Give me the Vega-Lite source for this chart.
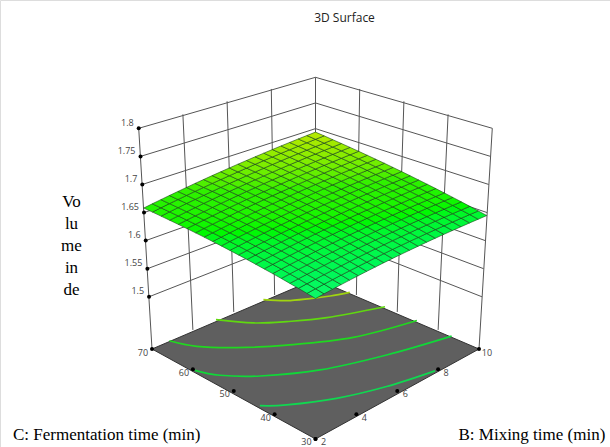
{"$schema":"https://vega.github.io/schema/vega-lite/v6.json","width":610,"height":447,"autosize":"none","padding":0,"background":"white","title":{"text":"3D Surface","dx":39.5,"dy":28.5,"font":"Open Sans","fontSize":12,"fontWeight":"normal","color":"#222"},
"datasets":{
"frame":[
{"id":"z1.5","o":0,"B":2,"C":70,"V":1.5},{"id":"z1.5","o":1,"B":10,"C":70,"V":1.5},{"id":"z1.5","o":2,"B":10,"C":30,"V":1.5},
{"id":"z1.55","o":0,"B":2,"C":70,"V":1.55},{"id":"z1.55","o":1,"B":10,"C":70,"V":1.55},{"id":"z1.55","o":2,"B":10,"C":30,"V":1.55},
{"id":"z1.6","o":0,"B":2,"C":70,"V":1.6},{"id":"z1.6","o":1,"B":10,"C":70,"V":1.6},{"id":"z1.6","o":2,"B":10,"C":30,"V":1.6},
{"id":"z1.65","o":0,"B":2,"C":70,"V":1.65},{"id":"z1.65","o":1,"B":10,"C":70,"V":1.65},{"id":"z1.65","o":2,"B":10,"C":30,"V":1.65},
{"id":"z1.7","o":0,"B":2,"C":70,"V":1.7},{"id":"z1.7","o":1,"B":10,"C":70,"V":1.7},{"id":"z1.7","o":2,"B":10,"C":30,"V":1.7},
{"id":"z1.75","o":0,"B":2,"C":70,"V":1.75},{"id":"z1.75","o":1,"B":10,"C":70,"V":1.75},{"id":"z1.75","o":2,"B":10,"C":30,"V":1.75},
{"id":"z1.8","o":0,"B":2,"C":70,"V":1.8},{"id":"z1.8","o":1,"B":10,"C":70,"V":1.8},{"id":"z1.8","o":2,"B":10,"C":30,"V":1.8},
{"id":"b2","o":0,"B":2,"C":70,"V":1.407},{"id":"b2","o":1,"B":2,"C":70,"V":1.8},
{"id":"b4","o":0,"B":4,"C":70,"V":1.407},{"id":"b4","o":1,"B":4,"C":70,"V":1.8},
{"id":"b6","o":0,"B":6,"C":70,"V":1.407},{"id":"b6","o":1,"B":6,"C":70,"V":1.8},
{"id":"b8","o":0,"B":8,"C":70,"V":1.407},{"id":"b8","o":1,"B":8,"C":70,"V":1.8},
{"id":"b10","o":0,"B":10,"C":70,"V":1.407},{"id":"b10","o":1,"B":10,"C":70,"V":1.8},
{"id":"c60","o":0,"B":10,"C":60,"V":1.407},{"id":"c60","o":1,"B":10,"C":60,"V":1.8},
{"id":"c50","o":0,"B":10,"C":50,"V":1.407},{"id":"c50","o":1,"B":10,"C":50,"V":1.8},
{"id":"c40","o":0,"B":10,"C":40,"V":1.407},{"id":"c40","o":1,"B":10,"C":40,"V":1.8},
{"id":"c30","o":0,"B":10,"C":30,"V":1.407},{"id":"c30","o":1,"B":10,"C":30,"V":1.8}
],
"floor":[{"o":0,"B":2,"C":30,"V":1.407},{"o":1,"B":10,"C":30,"V":1.407},{"o":2,"B":10,"C":70,"V":1.407},{"o":3,"B":2,"C":70,"V":1.407},{"o":4,"B":2,"C":30,"V":1.407}],
"contours":[
{"level":1.68,"o":0,"B":7.45,"C":70},{"level":1.68,"o":1,"B":7.96,"C":66.8},{"level":1.68,"o":2,"B":8.65,"C":64.6},{"level":1.68,"o":3,"B":9.3,"C":62.9},{"level":1.68,"o":4,"B":10,"C":61.6},
{"level":1.67,"o":0,"B":5.13,"C":70},{"level":1.67,"o":1,"B":5.86,"C":64.5},{"level":1.67,"o":2,"B":6.75,"C":60.8},{"level":1.67,"o":3,"B":7.95,"C":57},{"level":1.67,"o":4,"B":10,"C":53},
{"level":1.66,"o":0,"B":2.85,"C":70},{"level":1.66,"o":1,"B":3.23,"C":65.2},{"level":1.66,"o":2,"B":4.14,"C":60},{"level":1.66,"o":3,"B":5.5,"C":54.5},{"level":1.66,"o":4,"B":7.53,"C":48.4},{"level":1.66,"o":5,"B":10,"C":45.2},
{"level":1.65,"o":0,"B":2,"C":59.5},{"level":1.65,"o":1,"B":2.38,"C":55.3},{"level":1.65,"o":2,"B":3.33,"C":50.2},{"level":1.65,"o":3,"B":5.08,"C":44.3},{"level":1.65,"o":4,"B":7.44,"C":39.8},{"level":1.65,"o":5,"B":10,"C":36.7},
{"level":1.64,"o":0,"B":2,"C":43.6},{"level":1.64,"o":1,"B":2.68,"C":40.5},{"level":1.64,"o":2,"B":4.19,"C":35.8},{"level":1.64,"o":3,"B":5.94,"C":32.3},{"level":1.64,"o":4,"B":7.85,"C":30}
],
"ticks":[
{"axis":"V","label":"1.5","B":2,"C":70,"V":1.5},{"axis":"V","label":"1.55","B":2,"C":70,"V":1.55},{"axis":"V","label":"1.6","B":2,"C":70,"V":1.6},{"axis":"V","label":"1.65","B":2,"C":70,"V":1.65},{"axis":"V","label":"1.7","B":2,"C":70,"V":1.7},{"axis":"V","label":"1.75","B":2,"C":70,"V":1.75},{"axis":"V","label":"1.8","B":2,"C":70,"V":1.8},
{"axis":"C","label":"30","B":2,"C":30,"V":1.407},{"axis":"C","label":"40","B":2,"C":40,"V":1.407},{"axis":"C","label":"50","B":2,"C":50,"V":1.407},{"axis":"C","label":"60","B":2,"C":60,"V":1.407},{"axis":"C","label":"70","B":2,"C":70,"V":1.407},
{"axis":"B","label":"2","B":2,"C":30,"V":1.407},{"axis":"B","label":"4","B":4,"C":30,"V":1.407},{"axis":"B","label":"6","B":6,"C":30,"V":1.407},{"axis":"B","label":"8","B":8,"C":30,"V":1.407},{"axis":"B","label":"10","B":10,"C":30,"V":1.407}
],
"nodes":[
{"n":0,"B":2,"C":30,"V":1.6322},{"n":1,"B":2.4,"C":30,"V":1.6328},{"n":2,"B":2.8,"C":30,"V":1.6334},{"n":3,"B":3.2,"C":30,"V":1.6341},{"n":4,"B":3.6,"C":30,"V":1.6347},{"n":5,"B":4,"C":30,"V":1.6353},{"n":6,"B":4.4,"C":30,"V":1.6359},{"n":7,"B":4.8,"C":30,"V":1.6365},{"n":8,"B":5.2,"C":30,"V":1.6372},{"n":9,"B":5.6,"C":30,"V":1.6378},{"n":10,"B":6,"C":30,"V":1.6384},{"n":11,"B":6.4,"C":30,"V":1.639},{"n":12,"B":6.8,"C":30,"V":1.6396},{"n":13,"B":7.2,"C":30,"V":1.6403},{"n":14,"B":7.6,"C":30,"V":1.6409},{"n":15,"B":8,"C":30,"V":1.6415},{"n":16,"B":8.4,"C":30,"V":1.6421},{"n":17,"B":8.8,"C":30,"V":1.6427},{"n":18,"B":9.2,"C":30,"V":1.6434},{"n":19,"B":9.6,"C":30,"V":1.644},{"n":20,"B":10,"C":30,"V":1.6446},
{"n":21,"B":2,"C":32,"V":1.6335},{"n":22,"B":2.4,"C":32,"V":1.6342},{"n":23,"B":2.8,"C":32,"V":1.6348},{"n":24,"B":3.2,"C":32,"V":1.6355},{"n":25,"B":3.6,"C":32,"V":1.6362},{"n":26,"B":4,"C":32,"V":1.6369},{"n":27,"B":4.4,"C":32,"V":1.6376},{"n":28,"B":4.8,"C":32,"V":1.6382},{"n":29,"B":5.2,"C":32,"V":1.6389},{"n":30,"B":5.6,"C":32,"V":1.6396},{"n":31,"B":6,"C":32,"V":1.6403},{"n":32,"B":6.4,"C":32,"V":1.641},{"n":33,"B":6.8,"C":32,"V":1.6416},{"n":34,"B":7.2,"C":32,"V":1.6423},{"n":35,"B":7.6,"C":32,"V":1.643},{"n":36,"B":8,"C":32,"V":1.6437},{"n":37,"B":8.4,"C":32,"V":1.6443},{"n":38,"B":8.8,"C":32,"V":1.645},{"n":39,"B":9.2,"C":32,"V":1.6457},{"n":40,"B":9.6,"C":32,"V":1.6464},{"n":41,"B":10,"C":32,"V":1.647},
{"n":42,"B":2,"C":34,"V":1.6348},{"n":43,"B":2.4,"C":34,"V":1.6355},{"n":44,"B":2.8,"C":34,"V":1.6362},{"n":45,"B":3.2,"C":34,"V":1.637},{"n":46,"B":3.6,"C":34,"V":1.6377},{"n":47,"B":4,"C":34,"V":1.6385},{"n":48,"B":4.4,"C":34,"V":1.6392},{"n":49,"B":4.8,"C":34,"V":1.6399},{"n":50,"B":5.2,"C":34,"V":1.6407},{"n":51,"B":5.6,"C":34,"V":1.6414},{"n":52,"B":6,"C":34,"V":1.6421},{"n":53,"B":6.4,"C":34,"V":1.6429},{"n":54,"B":6.8,"C":34,"V":1.6436},{"n":55,"B":7.2,"C":34,"V":1.6443},{"n":56,"B":7.6,"C":34,"V":1.6451},{"n":57,"B":8,"C":34,"V":1.6458},{"n":58,"B":8.4,"C":34,"V":1.6465},{"n":59,"B":8.8,"C":34,"V":1.6473},{"n":60,"B":9.2,"C":34,"V":1.648},{"n":61,"B":9.6,"C":34,"V":1.6487},{"n":62,"B":10,"C":34,"V":1.6495},
{"n":63,"B":2,"C":36,"V":1.6361},{"n":64,"B":2.4,"C":36,"V":1.6369},{"n":65,"B":2.8,"C":36,"V":1.6376},{"n":66,"B":3.2,"C":36,"V":1.6384},{"n":67,"B":3.6,"C":36,"V":1.6392},{"n":68,"B":4,"C":36,"V":1.64},{"n":69,"B":4.4,"C":36,"V":1.6408},{"n":70,"B":4.8,"C":36,"V":1.6416},{"n":71,"B":5.2,"C":36,"V":1.6424},{"n":72,"B":5.6,"C":36,"V":1.6432},{"n":73,"B":6,"C":36,"V":1.644},{"n":74,"B":6.4,"C":36,"V":1.6447},{"n":75,"B":6.8,"C":36,"V":1.6455},{"n":76,"B":7.2,"C":36,"V":1.6463},{"n":77,"B":7.6,"C":36,"V":1.6471},{"n":78,"B":8,"C":36,"V":1.6479},{"n":79,"B":8.4,"C":36,"V":1.6487},{"n":80,"B":8.8,"C":36,"V":1.6495},{"n":81,"B":9.2,"C":36,"V":1.6503},{"n":82,"B":9.6,"C":36,"V":1.6511},{"n":83,"B":10,"C":36,"V":1.6519},
{"n":84,"B":2,"C":38,"V":1.6374},{"n":85,"B":2.4,"C":38,"V":1.6382},{"n":86,"B":2.8,"C":38,"V":1.6391},{"n":87,"B":3.2,"C":38,"V":1.6399},{"n":88,"B":3.6,"C":38,"V":1.6408},{"n":89,"B":4,"C":38,"V":1.6416},{"n":90,"B":4.4,"C":38,"V":1.6424},{"n":91,"B":4.8,"C":38,"V":1.6433},{"n":92,"B":5.2,"C":38,"V":1.6441},{"n":93,"B":5.6,"C":38,"V":1.645},{"n":94,"B":6,"C":38,"V":1.6458},{"n":95,"B":6.4,"C":38,"V":1.6467},{"n":96,"B":6.8,"C":38,"V":1.6475},{"n":97,"B":7.2,"C":38,"V":1.6484},{"n":98,"B":7.6,"C":38,"V":1.6492},{"n":99,"B":8,"C":38,"V":1.6501},{"n":100,"B":8.4,"C":38,"V":1.6509},{"n":101,"B":8.8,"C":38,"V":1.6518},{"n":102,"B":9.2,"C":38,"V":1.6526},{"n":103,"B":9.6,"C":38,"V":1.6535},{"n":104,"B":10,"C":38,"V":1.6543},
{"n":105,"B":2,"C":40,"V":1.6387},{"n":106,"B":2.4,"C":40,"V":1.6396},{"n":107,"B":2.8,"C":40,"V":1.6405},{"n":108,"B":3.2,"C":40,"V":1.6414},{"n":109,"B":3.6,"C":40,"V":1.6423},{"n":110,"B":4,"C":40,"V":1.6432},{"n":111,"B":4.4,"C":40,"V":1.6441},{"n":112,"B":4.8,"C":40,"V":1.645},{"n":113,"B":5.2,"C":40,"V":1.6459},{"n":114,"B":5.6,"C":40,"V":1.6468},{"n":115,"B":6,"C":40,"V":1.6477},{"n":116,"B":6.4,"C":40,"V":1.6486},{"n":117,"B":6.8,"C":40,"V":1.6495},{"n":118,"B":7.2,"C":40,"V":1.6504},{"n":119,"B":7.6,"C":40,"V":1.6513},{"n":120,"B":8,"C":40,"V":1.6522},{"n":121,"B":8.4,"C":40,"V":1.6531},{"n":122,"B":8.8,"C":40,"V":1.654},{"n":123,"B":9.2,"C":40,"V":1.6549},{"n":124,"B":9.6,"C":40,"V":1.6558},{"n":125,"B":10,"C":40,"V":1.6568},
{"n":126,"B":2,"C":42,"V":1.6399},{"n":127,"B":2.4,"C":42,"V":1.6409},{"n":128,"B":2.8,"C":42,"V":1.6419},{"n":129,"B":3.2,"C":42,"V":1.6428},{"n":130,"B":3.6,"C":42,"V":1.6438},{"n":131,"B":4,"C":42,"V":1.6448},{"n":132,"B":4.4,"C":42,"V":1.6457},{"n":133,"B":4.8,"C":42,"V":1.6467},{"n":134,"B":5.2,"C":42,"V":1.6476},{"n":135,"B":5.6,"C":42,"V":1.6486},{"n":136,"B":6,"C":42,"V":1.6496},{"n":137,"B":6.4,"C":42,"V":1.6505},{"n":138,"B":6.8,"C":42,"V":1.6515},{"n":139,"B":7.2,"C":42,"V":1.6525},{"n":140,"B":7.6,"C":42,"V":1.6534},{"n":141,"B":8,"C":42,"V":1.6544},{"n":142,"B":8.4,"C":42,"V":1.6553},{"n":143,"B":8.8,"C":42,"V":1.6563},{"n":144,"B":9.2,"C":42,"V":1.6573},{"n":145,"B":9.6,"C":42,"V":1.6582},{"n":146,"B":10,"C":42,"V":1.6592},
{"n":147,"B":2,"C":44,"V":1.6412},{"n":148,"B":2.4,"C":44,"V":1.6422},{"n":149,"B":2.8,"C":44,"V":1.6433},{"n":150,"B":3.2,"C":44,"V":1.6443},{"n":151,"B":3.6,"C":44,"V":1.6453},{"n":152,"B":4,"C":44,"V":1.6463},{"n":153,"B":4.4,"C":44,"V":1.6473},{"n":154,"B":4.8,"C":44,"V":1.6484},{"n":155,"B":5.2,"C":44,"V":1.6494},{"n":156,"B":5.6,"C":44,"V":1.6504},{"n":157,"B":6,"C":44,"V":1.6514},{"n":158,"B":6.4,"C":44,"V":1.6524},{"n":159,"B":6.8,"C":44,"V":1.6535},{"n":160,"B":7.2,"C":44,"V":1.6545},{"n":161,"B":7.6,"C":44,"V":1.6555},{"n":162,"B":8,"C":44,"V":1.6565},{"n":163,"B":8.4,"C":44,"V":1.6575},{"n":164,"B":8.8,"C":44,"V":1.6586},{"n":165,"B":9.2,"C":44,"V":1.6596},{"n":166,"B":9.6,"C":44,"V":1.6606},{"n":167,"B":10,"C":44,"V":1.6616},
{"n":168,"B":2,"C":46,"V":1.6425},{"n":169,"B":2.4,"C":46,"V":1.6436},{"n":170,"B":2.8,"C":46,"V":1.6447},{"n":171,"B":3.2,"C":46,"V":1.6457},{"n":172,"B":3.6,"C":46,"V":1.6468},{"n":173,"B":4,"C":46,"V":1.6479},{"n":174,"B":4.4,"C":46,"V":1.649},{"n":175,"B":4.8,"C":46,"V":1.6501},{"n":176,"B":5.2,"C":46,"V":1.6511},{"n":177,"B":5.6,"C":46,"V":1.6522},{"n":178,"B":6,"C":46,"V":1.6533},{"n":179,"B":6.4,"C":46,"V":1.6544},{"n":180,"B":6.8,"C":46,"V":1.6554},{"n":181,"B":7.2,"C":46,"V":1.6565},{"n":182,"B":7.6,"C":46,"V":1.6576},{"n":183,"B":8,"C":46,"V":1.6587},{"n":184,"B":8.4,"C":46,"V":1.6597},{"n":185,"B":8.8,"C":46,"V":1.6608},{"n":186,"B":9.2,"C":46,"V":1.6619},{"n":187,"B":9.6,"C":46,"V":1.663},{"n":188,"B":10,"C":46,"V":1.664},
{"n":189,"B":2,"C":48,"V":1.6438},{"n":190,"B":2.4,"C":48,"V":1.6449},{"n":191,"B":2.8,"C":48,"V":1.6461},{"n":192,"B":3.2,"C":48,"V":1.6472},{"n":193,"B":3.6,"C":48,"V":1.6483},{"n":194,"B":4,"C":48,"V":1.6495},{"n":195,"B":4.4,"C":48,"V":1.6506},{"n":196,"B":4.8,"C":48,"V":1.6517},{"n":197,"B":5.2,"C":48,"V":1.6529},{"n":198,"B":5.6,"C":48,"V":1.654},{"n":199,"B":6,"C":48,"V":1.6551},{"n":200,"B":6.4,"C":48,"V":1.6563},{"n":201,"B":6.8,"C":48,"V":1.6574},{"n":202,"B":7.2,"C":48,"V":1.6585},{"n":203,"B":7.6,"C":48,"V":1.6597},{"n":204,"B":8,"C":48,"V":1.6608},{"n":205,"B":8.4,"C":48,"V":1.6619},{"n":206,"B":8.8,"C":48,"V":1.6631},{"n":207,"B":9.2,"C":48,"V":1.6642},{"n":208,"B":9.6,"C":48,"V":1.6653},{"n":209,"B":10,"C":48,"V":1.6665},
{"n":210,"B":2,"C":50,"V":1.6451},{"n":211,"B":2.4,"C":50,"V":1.6463},{"n":212,"B":2.8,"C":50,"V":1.6475},{"n":213,"B":3.2,"C":50,"V":1.6487},{"n":214,"B":3.6,"C":50,"V":1.6499},{"n":215,"B":4,"C":50,"V":1.6511},{"n":216,"B":4.4,"C":50,"V":1.6522},{"n":217,"B":4.8,"C":50,"V":1.6534},{"n":218,"B":5.2,"C":50,"V":1.6546},{"n":219,"B":5.6,"C":50,"V":1.6558},{"n":220,"B":6,"C":50,"V":1.657},{"n":221,"B":6.4,"C":50,"V":1.6582},{"n":222,"B":6.8,"C":50,"V":1.6594},{"n":223,"B":7.2,"C":50,"V":1.6606},{"n":224,"B":7.6,"C":50,"V":1.6618},{"n":225,"B":8,"C":50,"V":1.663},{"n":226,"B":8.4,"C":50,"V":1.6641},{"n":227,"B":8.8,"C":50,"V":1.6653},{"n":228,"B":9.2,"C":50,"V":1.6665},{"n":229,"B":9.6,"C":50,"V":1.6677},{"n":230,"B":10,"C":50,"V":1.6689},
{"n":231,"B":2,"C":52,"V":1.6464},{"n":232,"B":2.4,"C":52,"V":1.6476},{"n":233,"B":2.8,"C":52,"V":1.6489},{"n":234,"B":3.2,"C":52,"V":1.6501},{"n":235,"B":3.6,"C":52,"V":1.6514},{"n":236,"B":4,"C":52,"V":1.6526},{"n":237,"B":4.4,"C":52,"V":1.6539},{"n":238,"B":4.8,"C":52,"V":1.6551},{"n":239,"B":5.2,"C":52,"V":1.6564},{"n":240,"B":5.6,"C":52,"V":1.6576},{"n":241,"B":6,"C":52,"V":1.6589},{"n":242,"B":6.4,"C":52,"V":1.6601},{"n":243,"B":6.8,"C":52,"V":1.6613},{"n":244,"B":7.2,"C":52,"V":1.6626},{"n":245,"B":7.6,"C":52,"V":1.6638},{"n":246,"B":8,"C":52,"V":1.6651},{"n":247,"B":8.4,"C":52,"V":1.6663},{"n":248,"B":8.8,"C":52,"V":1.6676},{"n":249,"B":9.2,"C":52,"V":1.6688},{"n":250,"B":9.6,"C":52,"V":1.6701},{"n":251,"B":10,"C":52,"V":1.6713},
{"n":252,"B":2,"C":54,"V":1.6477},{"n":253,"B":2.4,"C":54,"V":1.649},{"n":254,"B":2.8,"C":54,"V":1.6503},{"n":255,"B":3.2,"C":54,"V":1.6516},{"n":256,"B":3.6,"C":54,"V":1.6529},{"n":257,"B":4,"C":54,"V":1.6542},{"n":258,"B":4.4,"C":54,"V":1.6555},{"n":259,"B":4.8,"C":54,"V":1.6568},{"n":260,"B":5.2,"C":54,"V":1.6581},{"n":261,"B":5.6,"C":54,"V":1.6594},{"n":262,"B":6,"C":54,"V":1.6607},{"n":263,"B":6.4,"C":54,"V":1.662},{"n":264,"B":6.8,"C":54,"V":1.6633},{"n":265,"B":7.2,"C":54,"V":1.6646},{"n":266,"B":7.6,"C":54,"V":1.666},{"n":267,"B":8,"C":54,"V":1.6673},{"n":268,"B":8.4,"C":54,"V":1.6686},{"n":269,"B":8.8,"C":54,"V":1.6699},{"n":270,"B":9.2,"C":54,"V":1.6712},{"n":271,"B":9.6,"C":54,"V":1.6725},{"n":272,"B":10,"C":54,"V":1.6738},
{"n":273,"B":2,"C":56,"V":1.649},{"n":274,"B":2.4,"C":56,"V":1.6503},{"n":275,"B":2.8,"C":56,"V":1.6517},{"n":276,"B":3.2,"C":56,"V":1.6531},{"n":277,"B":3.6,"C":56,"V":1.6544},{"n":278,"B":4,"C":56,"V":1.6558},{"n":279,"B":4.4,"C":56,"V":1.6571},{"n":280,"B":4.8,"C":56,"V":1.6585},{"n":281,"B":5.2,"C":56,"V":1.6599},{"n":282,"B":5.6,"C":56,"V":1.6612},{"n":283,"B":6,"C":56,"V":1.6626},{"n":284,"B":6.4,"C":56,"V":1.664},{"n":285,"B":6.8,"C":56,"V":1.6653},{"n":286,"B":7.2,"C":56,"V":1.6667},{"n":287,"B":7.6,"C":56,"V":1.668},{"n":288,"B":8,"C":56,"V":1.6694},{"n":289,"B":8.4,"C":56,"V":1.6708},{"n":290,"B":8.8,"C":56,"V":1.6721},{"n":291,"B":9.2,"C":56,"V":1.6735},{"n":292,"B":9.6,"C":56,"V":1.6748},{"n":293,"B":10,"C":56,"V":1.6762},
{"n":294,"B":2,"C":58,"V":1.6503},{"n":295,"B":2.4,"C":58,"V":1.6517},{"n":296,"B":2.8,"C":58,"V":1.6531},{"n":297,"B":3.2,"C":58,"V":1.6545},{"n":298,"B":3.6,"C":58,"V":1.6559},{"n":299,"B":4,"C":58,"V":1.6574},{"n":300,"B":4.4,"C":58,"V":1.6588},{"n":301,"B":4.8,"C":58,"V":1.6602},{"n":302,"B":5.2,"C":58,"V":1.6616},{"n":303,"B":5.6,"C":58,"V":1.663},{"n":304,"B":6,"C":58,"V":1.6644},{"n":305,"B":6.4,"C":58,"V":1.6658},{"n":306,"B":6.8,"C":58,"V":1.6673},{"n":307,"B":7.2,"C":58,"V":1.6687},{"n":308,"B":7.6,"C":58,"V":1.6701},{"n":309,"B":8,"C":58,"V":1.6715},{"n":310,"B":8.4,"C":58,"V":1.6729},{"n":311,"B":8.8,"C":58,"V":1.6744},{"n":312,"B":9.2,"C":58,"V":1.6758},{"n":313,"B":9.6,"C":58,"V":1.6772},{"n":314,"B":10,"C":58,"V":1.6786},
{"n":315,"B":2,"C":60,"V":1.6516},{"n":316,"B":2.4,"C":60,"V":1.653},{"n":317,"B":2.8,"C":60,"V":1.6545},{"n":318,"B":3.2,"C":60,"V":1.656},{"n":319,"B":3.6,"C":60,"V":1.6575},{"n":320,"B":4,"C":60,"V":1.6589},{"n":321,"B":4.4,"C":60,"V":1.6604},{"n":322,"B":4.8,"C":60,"V":1.6619},{"n":323,"B":5.2,"C":60,"V":1.6634},{"n":324,"B":5.6,"C":60,"V":1.6648},{"n":325,"B":6,"C":60,"V":1.6663},{"n":326,"B":6.4,"C":60,"V":1.6678},{"n":327,"B":6.8,"C":60,"V":1.6693},{"n":328,"B":7.2,"C":60,"V":1.6707},{"n":329,"B":7.6,"C":60,"V":1.6722},{"n":330,"B":8,"C":60,"V":1.6737},{"n":331,"B":8.4,"C":60,"V":1.6752},{"n":332,"B":8.8,"C":60,"V":1.6766},{"n":333,"B":9.2,"C":60,"V":1.6781},{"n":334,"B":9.6,"C":60,"V":1.6796},{"n":335,"B":10,"C":60,"V":1.6811},
{"n":336,"B":2,"C":62,"V":1.6528},{"n":337,"B":2.4,"C":62,"V":1.6544},{"n":338,"B":2.8,"C":62,"V":1.6559},{"n":339,"B":3.2,"C":62,"V":1.6574},{"n":340,"B":3.6,"C":62,"V":1.659},{"n":341,"B":4,"C":62,"V":1.6605},{"n":342,"B":4.4,"C":62,"V":1.662},{"n":343,"B":4.8,"C":62,"V":1.6636},{"n":344,"B":5.2,"C":62,"V":1.6651},{"n":345,"B":5.6,"C":62,"V":1.6666},{"n":346,"B":6,"C":62,"V":1.6682},{"n":347,"B":6.4,"C":62,"V":1.6697},{"n":348,"B":6.8,"C":62,"V":1.6712},{"n":349,"B":7.2,"C":62,"V":1.6728},{"n":350,"B":7.6,"C":62,"V":1.6743},{"n":351,"B":8,"C":62,"V":1.6758},{"n":352,"B":8.4,"C":62,"V":1.6774},{"n":353,"B":8.8,"C":62,"V":1.6789},{"n":354,"B":9.2,"C":62,"V":1.6804},{"n":355,"B":9.6,"C":62,"V":1.682},{"n":356,"B":10,"C":62,"V":1.6835},
{"n":357,"B":2,"C":64,"V":1.6541},{"n":358,"B":2.4,"C":64,"V":1.6557},{"n":359,"B":2.8,"C":64,"V":1.6573},{"n":360,"B":3.2,"C":64,"V":1.6589},{"n":361,"B":3.6,"C":64,"V":1.6605},{"n":362,"B":4,"C":64,"V":1.6621},{"n":363,"B":4.4,"C":64,"V":1.6637},{"n":364,"B":4.8,"C":64,"V":1.6653},{"n":365,"B":5.2,"C":64,"V":1.6668},{"n":366,"B":5.6,"C":64,"V":1.6684},{"n":367,"B":6,"C":64,"V":1.67},{"n":368,"B":6.4,"C":64,"V":1.6716},{"n":369,"B":6.8,"C":64,"V":1.6732},{"n":370,"B":7.2,"C":64,"V":1.6748},{"n":371,"B":7.6,"C":64,"V":1.6764},{"n":372,"B":8,"C":64,"V":1.678},{"n":373,"B":8.4,"C":64,"V":1.6796},{"n":374,"B":8.8,"C":64,"V":1.6811},{"n":375,"B":9.2,"C":64,"V":1.6827},{"n":376,"B":9.6,"C":64,"V":1.6843},{"n":377,"B":10,"C":64,"V":1.6859},
{"n":378,"B":2,"C":66,"V":1.6554},{"n":379,"B":2.4,"C":66,"V":1.6571},{"n":380,"B":2.8,"C":66,"V":1.6587},{"n":381,"B":3.2,"C":66,"V":1.6604},{"n":382,"B":3.6,"C":66,"V":1.662},{"n":383,"B":4,"C":66,"V":1.6637},{"n":384,"B":4.4,"C":66,"V":1.6653},{"n":385,"B":4.8,"C":66,"V":1.6669},{"n":386,"B":5.2,"C":66,"V":1.6686},{"n":387,"B":5.6,"C":66,"V":1.6702},{"n":388,"B":6,"C":66,"V":1.6719},{"n":389,"B":6.4,"C":66,"V":1.6735},{"n":390,"B":6.8,"C":66,"V":1.6752},{"n":391,"B":7.2,"C":66,"V":1.6768},{"n":392,"B":7.6,"C":66,"V":1.6785},{"n":393,"B":8,"C":66,"V":1.6801},{"n":394,"B":8.4,"C":66,"V":1.6818},{"n":395,"B":8.8,"C":66,"V":1.6834},{"n":396,"B":9.2,"C":66,"V":1.685},{"n":397,"B":9.6,"C":66,"V":1.6867},{"n":398,"B":10,"C":66,"V":1.6883},
{"n":399,"B":2,"C":68,"V":1.6567},{"n":400,"B":2.4,"C":68,"V":1.6584},{"n":401,"B":2.8,"C":68,"V":1.6601},{"n":402,"B":3.2,"C":68,"V":1.6618},{"n":403,"B":3.6,"C":68,"V":1.6635},{"n":404,"B":4,"C":68,"V":1.6652},{"n":405,"B":4.4,"C":68,"V":1.6669},{"n":406,"B":4.8,"C":68,"V":1.6686},{"n":407,"B":5.2,"C":68,"V":1.6703},{"n":408,"B":5.6,"C":68,"V":1.672},{"n":409,"B":6,"C":68,"V":1.6737},{"n":410,"B":6.4,"C":68,"V":1.6754},{"n":411,"B":6.8,"C":68,"V":1.6772},{"n":412,"B":7.2,"C":68,"V":1.6789},{"n":413,"B":7.6,"C":68,"V":1.6806},{"n":414,"B":8,"C":68,"V":1.6823},{"n":415,"B":8.4,"C":68,"V":1.684},{"n":416,"B":8.8,"C":68,"V":1.6857},{"n":417,"B":9.2,"C":68,"V":1.6874},{"n":418,"B":9.6,"C":68,"V":1.6891},{"n":419,"B":10,"C":68,"V":1.6908},
{"n":420,"B":2,"C":70,"V":1.658},{"n":421,"B":2.4,"C":70,"V":1.6598},{"n":422,"B":2.8,"C":70,"V":1.6615},{"n":423,"B":3.2,"C":70,"V":1.6633},{"n":424,"B":3.6,"C":70,"V":1.665},{"n":425,"B":4,"C":70,"V":1.6668},{"n":426,"B":4.4,"C":70,"V":1.6686},{"n":427,"B":4.8,"C":70,"V":1.6703},{"n":428,"B":5.2,"C":70,"V":1.6721},{"n":429,"B":5.6,"C":70,"V":1.6738},{"n":430,"B":6,"C":70,"V":1.6756},{"n":431,"B":6.4,"C":70,"V":1.6774},{"n":432,"B":6.8,"C":70,"V":1.6791},{"n":433,"B":7.2,"C":70,"V":1.6809},{"n":434,"B":7.6,"C":70,"V":1.6826},{"n":435,"B":8,"C":70,"V":1.6844},{"n":436,"B":8.4,"C":70,"V":1.6862},{"n":437,"B":8.8,"C":70,"V":1.6879},{"n":438,"B":9.2,"C":70,"V":1.6897},{"n":439,"B":9.6,"C":70,"V":1.6914},{"n":440,"B":10,"C":70,"V":1.6932}
]
},
"resolve":{"axis":{"x":"independent"}},
"layer":[
{"data":{"name":"frame"},"transform":[
{"calculate":"(datum.V-1.407)/0.393","as":"h"},
{"calculate":"((datum.B-6)/4+(datum.C-50)/20)/2","as":"d"},
{"calculate":"((datum.B-6)/4-(datum.C-50)/20)/2","as":"l"},
{"calculate":"315.5+163.5*datum.l/(1-0.0752*datum.h)","as":"sx"},
{"calculate":"(349-(35.1+6.24*datum.h)*datum.d-220.7*datum.h)/(1+0.125*datum.d)","as":"sy"}],
"mark":{"type":"line","stroke":"#555555","strokeWidth":1,"clip":false},
"encoding":{
"x":{"field":"sx","type":"quantitative","scale":{"domain":[0,610],"nice":false,"zero":false},"axis":{"orient":"bottom","title":"C: Fermentation time (min)","titleX":12.5,"titleY":-7.5,"titleAlign":"left","titleBaseline":"alphabetic","titleFont":"Liberation Serif","titleFontSize":17,"titleFontWeight":"normal","titleColor":"#000000","domain":false,"ticks":false,"labels":false,"grid":false}},
"y":{"field":"sy","type":"quantitative","scale":{"domain":[447,0],"nice":false,"zero":false},"axis":{"title":["Vo","lu","me","in","de"],"titleAngle":0,"titleX":71,"titleY":206,"titleAlign":"center","titleBaseline":"alphabetic","titleLineHeight":22,"titleFont":"Liberation Serif","titleFontSize":17,"titleFontWeight":"normal","titleColor":"#000000","domain":false,"ticks":false,"labels":false,"grid":false}},
"detail":{"field":"id"},"order":{"field":"o"}}},
{"data":{"name":"floor"},"transform":[
{"calculate":"((datum.B-6)/4+(datum.C-50)/20)/2","as":"d"},
{"calculate":"((datum.B-6)/4-(datum.C-50)/20)/2","as":"l"},
{"calculate":"315.5+163.5*datum.l","as":"sx"},
{"calculate":"(349-35.1*datum.d)/(1+0.125*datum.d)","as":"sy"}],
"mark":{"type":"line","stroke":"#333333","strokeWidth":1,"fill":"#5f5f5f"},
"encoding":{
"x":{"field":"sx","type":"quantitative","axis":{"orient":"bottom","title":"B: Mixing time (min)","titleX":458,"titleY":-7.5,"titleAlign":"left","titleBaseline":"alphabetic","titleFont":"Liberation Serif","titleFontSize":17,"titleFontWeight":"normal","titleColor":"#000000","domain":false,"ticks":false,"labels":false,"grid":false}},
"y":{"field":"sy","type":"quantitative"},
"order":{"field":"o"}}},
{"data":{"name":"contours"},"transform":[
{"calculate":"((datum.B-6)/4+(datum.C-50)/20)/2","as":"d"},
{"calculate":"((datum.B-6)/4-(datum.C-50)/20)/2","as":"l"},
{"calculate":"315.5+163.5*datum.l","as":"sx"},
{"calculate":"(349-35.1*datum.d)/(1+0.125*datum.d)","as":"sy"}],
"mark":{"type":"line","strokeWidth":1.7,"interpolate":"cardinal"},
"encoding":{
"x":{"field":"sx","type":"quantitative","axis":null},
"y":{"field":"sy","type":"quantitative"},
"order":{"field":"o"},
"color":{"field":"level","type":"ordinal","legend":null,"scale":{"domain":[1.64,1.65,1.66,1.67,1.68],"range":["#10d850","#10d838","#20d820","#60d810","#a0d410"]}}}},
{"data":{"name":"ticks"},"transform":[
{"calculate":"(datum.V-1.407)/0.393","as":"h"},
{"calculate":"((datum.B-6)/4+(datum.C-50)/20)/2","as":"d"},
{"calculate":"((datum.B-6)/4-(datum.C-50)/20)/2","as":"l"},
{"calculate":"315.5+163.5*datum.l/(1-0.0752*datum.h)","as":"sx"},
{"calculate":"(349-(35.1+6.24*datum.h)*datum.d-220.7*datum.h)/(1+0.125*datum.d)","as":"sy"}],
"mark":{"type":"circle","size":16,"color":"#000000","opacity":1},
"encoding":{
"x":{"field":"sx","type":"quantitative","axis":null},
"y":{"field":"sy","type":"quantitative"}}},
{"data":{"name":"ticks"},"transform":[
{"filter":"datum.axis=='V'"},
{"calculate":"(datum.V-1.407)/0.393","as":"h"},
{"calculate":"((datum.B-6)/4+(datum.C-50)/20)/2","as":"d"},
{"calculate":"((datum.B-6)/4-(datum.C-50)/20)/2","as":"l"},
{"calculate":"315.5+163.5*datum.l/(1-0.0752*datum.h)","as":"sx"},
{"calculate":"(349-(35.1+6.24*datum.h)*datum.d-220.7*datum.h)/(1+0.125*datum.d)","as":"sy"}],
"mark":{"type":"text","align":"right","baseline":"middle","dx":-5,"dy":-5.5,"font":"Open Sans","fontSize":9,"color":"#444444"},
"encoding":{
"x":{"field":"sx","type":"quantitative","axis":null},
"y":{"field":"sy","type":"quantitative"},
"text":{"field":"label"}}},
{"data":{"name":"ticks"},"transform":[
{"filter":"datum.axis=='C'"},
{"calculate":"((datum.B-6)/4+(datum.C-50)/20)/2","as":"d"},
{"calculate":"((datum.B-6)/4-(datum.C-50)/20)/2","as":"l"},
{"calculate":"315.5+163.5*datum.l","as":"sx"},
{"calculate":"(349-35.1*datum.d)/(1+0.125*datum.d)","as":"sy"}],
"mark":{"type":"text","align":"center","baseline":"middle","dx":-9,"dy":3.5,"font":"Open Sans","fontSize":9,"color":"#444444"},
"encoding":{
"x":{"field":"sx","type":"quantitative","axis":null},
"y":{"field":"sy","type":"quantitative"},
"text":{"field":"label"}}},
{"data":{"name":"ticks"},"transform":[
{"filter":"datum.axis=='B'"},
{"calculate":"((datum.B-6)/4+(datum.C-50)/20)/2","as":"d"},
{"calculate":"((datum.B-6)/4-(datum.C-50)/20)/2","as":"l"},
{"calculate":"315.5+163.5*datum.l","as":"sx"},
{"calculate":"(349-35.1*datum.d)/(1+0.125*datum.d)","as":"sy"}],
"mark":{"type":"text","align":"center","baseline":"middle","dx":8,"dy":3.5,"font":"Open Sans","fontSize":9,"color":"#444444"},
"encoding":{
"x":{"field":"sx","type":"quantitative","axis":null},
"y":{"field":"sy","type":"quantitative"},
"text":{"field":"label"}}},
{"data":{"name":"nodes"},"transform":[
{"filter":"datum.n%21<20 && datum.n<420"},
{"calculate":"[0,1,2,3,4]","as":"corners"},
{"flatten":["corners"],"as":["k"]},
{"calculate":"datum.n+((datum.k==1||datum.k==2)?1:0)+((datum.k==2||datum.k==3)?21:0)","as":"n2"},
{"lookup":"n2","from":{"data":{"name":"nodes"},"key":"n","fields":["B","C","V"]},"as":["B2","C2","V2"]},
{"joinaggregate":[{"op":"mean","field":"V2","as":"mV"}],"groupby":["n"]},
{"calculate":"(datum.V2-1.407)/0.393","as":"h"},
{"calculate":"((datum.B2-6)/4+(datum.C2-50)/20)/2","as":"d"},
{"calculate":"((datum.B2-6)/4-(datum.C2-50)/20)/2","as":"l"},
{"calculate":"315.5+163.5*datum.l/(1-0.0752*datum.h)","as":"sx"},
{"calculate":"(349-(35.1+6.24*datum.h)*datum.d-220.7*datum.h)/(1+0.125*datum.d)","as":"sy"}],
"mark":{"type":"line","stroke":"#184418","strokeWidth":0.6},
"encoding":{
"x":{"field":"sx","type":"quantitative","axis":null},
"y":{"field":"sy","type":"quantitative"},
"detail":{"field":"n"},
"order":{"field":"k"},
"fill":{"field":"mV","type":"quantitative","legend":null,"scale":{"domain":[1.632,1.65,1.665,1.693],"range":["#10f868","#00f800","#30f000","#b8e800"]}}}}
]}
